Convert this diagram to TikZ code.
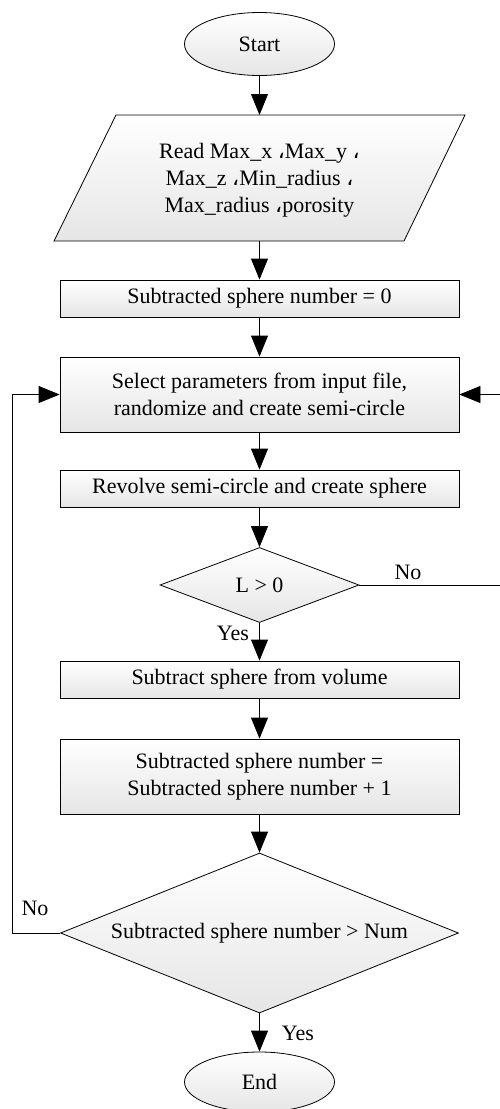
\documentclass[tikz,border=0pt]{standalone}
\usepackage{fontspec}
\setmainfont{Liberation Serif}
\newfontfamily\acomma[Script=Arabic]{DejaVu Sans}
\usetikzlibrary{shapes.geometric,arrows.meta}
\newcommand{\ac}{{\acomma\char"060C}}
\begin{document}
\begin{tikzpicture}[x=1pt,y=-1pt,
  font=\fontsize{22}{27}\selectfont,
  line width=0.8pt,
  shade/.style={top color=white,bottom color=gray!20},
  procbox/.style={draw,shade,rectangle,minimum width=399pt,inner sep=0pt,align=center},
  term/.style={draw,shade,ellipse,minimum width=150pt,minimum height=63pt,inner sep=0pt},
  decide/.style={draw,shade,diamond,inner sep=0pt,align=center},
  arr/.style={-{Triangle[length=21pt,width=17pt]}},
  lbl/.style={inner sep=0pt}]
\useasboundingbox (0,0) rectangle (499,1109);
% start
\node[term] (start) at (259.5,44) {Start};
% parallelogram (input)
\coordinate (pTL) at (116,115);
\coordinate (pTR) at (465,115);
\coordinate (pBR) at (404,241);
\coordinate (pBL) at (54,241);
\draw[shade] (pTL) -- (pTR) -- (pBR) -- (pBL) -- cycle;
\coordinate (readtop) at (259.5,115);
\coordinate (readbot) at (259.5,241);
\node[lbl,align=center] (read) at (259.5,180)
  {Read Max\_x \ac Max\_y \ac\\Max\_z \ac Min\_radius \ac\\Max\_radius \ac porosity};
% boxes
\node[procbox,minimum height=37pt] (b2) at (259.5,298.5) {Subtracted sphere number = 0};
\node[procbox,minimum height=75pt] (b3) at (259.5,394.5) {Select parameters from input file,\\randomize and create semi-circle};
\node[procbox,minimum height=37pt] (b4) at (259.5,488.5) {Revolve semi-circle and create sphere};
\node[decide,minimum width=199pt,minimum height=75pt] (d1) at (259.5,585) {L > 0};
\node[procbox,minimum height=37pt] (b5) at (259.5,679.5) {Subtract sphere from volume};
\node[procbox,minimum height=75pt] (b6) at (259.5,776.5) {Subtracted sphere number =\\Subtracted sphere number + 1};
\node[decide,aspect=2.5,minimum width=398pt,minimum height=160pt] (d2) at (259.5,933) {Subtracted sphere number > Num};
\node[term,minimum height=60pt] (end) at (259.5,1082) {End};
% connectors
\draw[arr] (start) -- (readtop);
\draw[arr] (readbot) -- (b2);
\draw[arr] (b2) -- (b3);
\draw[arr] (b3) -- (b4);
\draw[arr] (b4) -- (d1);
\draw[arr] (d1) -- (b5);
\draw[arr] (b5) -- (b6);
\draw[arr] (b6) -- (d2);
\draw[arr] (d2) -- (end);
\coordinate (lx) at (12,0);
\coordinate (rx) at (500,0);
\draw[arr] (d2.west) -- (d2.west -| lx) |- (b3.west);
\draw[arr] (d1.east) -- (d1.east -| rx) |- (b3.east);
% labels
\node[lbl] (no1) at (408,572) {No};
\node[lbl] (yes1) at (233,633) {Yes};
\node[lbl] (no2) at (35,908) {No};
\node[lbl] (yes2) at (298,1033) {Yes};
\end{tikzpicture}
\end{document}
